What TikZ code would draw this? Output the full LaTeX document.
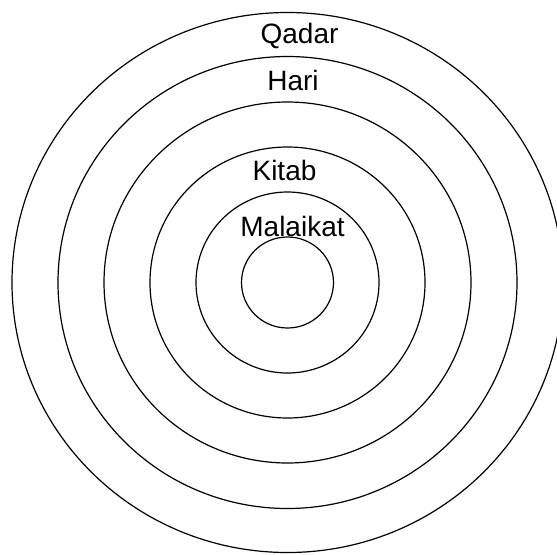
\documentclass[tikz,border=0pt]{standalone}
\usepackage{fontspec}
\setmainfont{Liberation Sans}
\usepackage{tikz}
\usetikzlibrary{positioning}

\begin{document}
\begin{tikzpicture}[x=0.75pt,y=-0.75pt,ring/.style={draw=black,line width=0.9pt},lbl/.style={anchor=base,inner sep=0pt,font=\fontsize{21}{25}\selectfont}]
	\useasboundingbox (0,0) rectangle (557,554);
	\clip (0,0) rectangle (557,554);
	\coordinate (c) at (287.5,282.5);
	\foreach \rx/\ry in {46/45.5,91.5/90.5,137.5/135.5,183.5/180.5,229.5/226,275.5/270}{\draw[ring] (c) ellipse [x radius=\rx,y radius=\ry];}
	\node[lbl] (qadar) at (299.5,43) {Qadar};
	\node[lbl] (hari) at (293,90) {Hari};
	\node[lbl] (kitab) at (284.5,180) {Kitab};
	\node[lbl] (malaikat) at (292.5,236) {Malaikat};
\end{tikzpicture}
\end{document}
